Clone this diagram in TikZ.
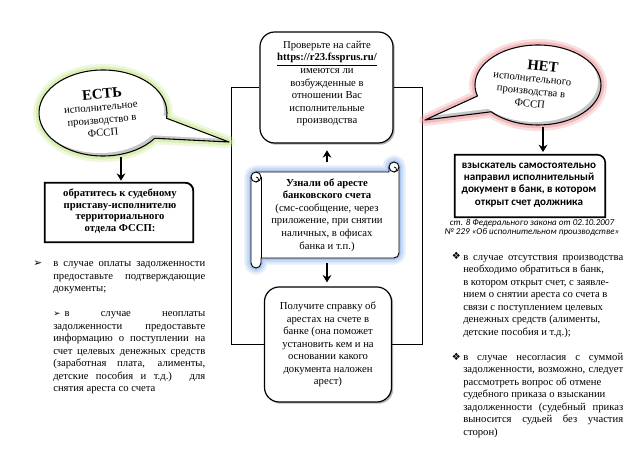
\documentclass[tikz,border=0pt]{standalone}
\usepackage{fontspec}
\setmainfont{Liberation Serif}
\newfontfamily\calfont{Carlito}
\newfontfamily\symfont{DejaVu Sans}
\usetikzlibrary{arrows.meta,shadows,calc}
\setlength{\parindent}{0pt}
\definecolor{glowgreen}{RGB}{200,232,140}
\definecolor{glowred}{RGB}{240,150,155}
\definecolor{glowblue}{RGB}{140,180,235}
\newcommand\yespath{($(103,113)+(36:64 and 43)$) arc[start angle=36, end angle=367, x radius=64, y radius=43] -- (229,142) -- cycle}
\newcommand\nopath{($(538,85)+(164:63 and 40)$) arc[start angle=164, end angle=498, x radius=63, y radius=40] -- (425,120) -- cycle}
\newcommand\scrollpath{(251,177) arc[start angle=180, end angle=270, radius=5] -- (389,172) -- (389,167) arc[start angle=180, end angle=360, radius=5] -- (399,253) arc[start angle=0, end angle=90, radius=5] -- (261,258) -- (261,263) arc[start angle=0, end angle=180, radius=5] -- cycle}
\tikzset{
  bigarrow/.style={line width=1.7pt, -{Stealth[length=5.5pt,width=6.5pt]}},
  frameline/.style={line width=0.9pt},
  rbox/.style={draw, line width=0.9pt, rounded corners=11pt, fill=white,
    drop shadow={shadow xshift=1.3pt, shadow yshift=-1.3pt, fill=gray!70, opacity=0.8}},
  txt/.style={font=\fontsize{8}{9.4}\selectfont, align=center, inner sep=0pt},
  btxt/.style={font=\fontsize{8}{9.4}\selectfont\bfseries, align=center, inner sep=0pt},
  para/.style={font=\fontsize{8}{9.4}\selectfont, align=justify, inner sep=0pt, anchor=north west},
  bul/.style={font=\symfont\fontsize{8}{9}\selectfont, inner sep=0pt, anchor=base west},
}
\begin{document}
\begin{tikzpicture}[x=0.75pt,y=-0.75pt]
\useasboundingbox (0,0) rectangle (640,453);
\fill[white] (0,0) rectangle (640,453);

% ---------- central column ----------
\node[rbox, minimum width=99.75pt, minimum height=83.25pt] (top) at (326.5,87.5) {};
\node[txt] (topt) at (327,83.5) {Проверьте на сайте\\ \textbf{\underline{https://r23.fssprus.ru/}}\\ имеются ли\\ возбужденные в\\ отношении Вас\\ исполнительные\\ производства};

\node[rbox, txt, minimum width=95.25pt, minimum height=86.25pt] (bot) at (328,344.5)
  {Получите справку об\\ арестах на счете в\\ банке (она поможет\\ установить кем и на\\ основании какого\\ документа наложен\\ арест)};

\draw[frameline] (top.west) -- ++(-28,0) |- (bot.west);
\draw[frameline] (top.east) -- ++(29,0) |- (bot.east);

% scroll
\node[minimum width=111pt, minimum height=79.5pt, inner sep=0pt] (scroll) at (325,215) {};
\path[draw=glowblue, line width=10pt, draw opacity=0.22, line join=round] \scrollpath;
\path[draw=glowblue, line width=6.5pt, draw opacity=0.3, line join=round] \scrollpath;
\path[draw=glowblue, line width=3pt, draw opacity=0.5, line join=round] \scrollpath;
\path[fill=white, draw=black, line width=0.7pt] \scrollpath;
\draw[line width=0.7pt] (261,258) -- (261,177);
\draw[line width=0.7pt] (256,172) arc[start angle=270, end angle=360, radius=5];
\draw[line width=0.7pt] (261,177) arc[start angle=0, end angle=180, radius=5];
\draw[line width=0.6pt] (256,177) arc[start angle=270, end angle=450, radius=2.5];
\draw[line width=0.7pt] (399,167) arc[start angle=0, end angle=180, radius=5];
\draw[line width=0.6pt] (394,167) arc[start angle=-90, end angle=90, radius=2.5];
\node[txt] (scrollt) at (327,215) {\textbf{Узнали об аресте}\\ \textbf{банковского счета}\\ (смс-сообщение, через\\ приложение, при снятии\\ наличных, в офисах\\ банка и т.п.)};

\draw[bigarrow, shorten >=5pt] (scroll.north -| topt) -- (top.south -| topt);
\draw[bigarrow, shorten >=3pt] ([yshift=4pt]scroll.south -| topt) -- (bot.north -| topt);

% ---------- left callout ----------
\path[draw=glowgreen, line width=9pt, draw opacity=0.3, line join=round] \yespath;
\path[draw=glowgreen, line width=5pt, draw opacity=0.5, line join=round] \yespath;
\begin{scope}
  \clip \yespath;
  \fill[gray!45] \yespath;
  \fill[white, shift={(-3,-3)}] \yespath;
\end{scope}
\path[draw=black, line width=0.8pt, line join=round] \yespath;
\node[inner sep=0pt, rotate=5, font=\fontsize{11}{13}\selectfont\bfseries] (yeshead) at (102,94) {ЕСТЬ};
\node[txt, rotate=5, font=\fontsize{8}{9.6}\selectfont] (yest) at (102,121) {исполнительное\\ производство в\\ ФССП};

\node[minimum width=111pt, minimum height=44.25pt, inner sep=0pt] (lb) at (119,212.5) {};
\draw[line width=1.4pt] (lb.south west) -- (lb.north west) -- ([xshift=-6pt]lb.north east)
  .. controls ([xshift=-2.7pt]lb.north east) and ([yshift=-2.7pt]lb.north east) .. ([yshift=-6pt]lb.north east)
  -- (lb.south east) -- cycle;
\node[btxt, font=\fontsize{8}{8.8}\selectfont\bfseries] (lbt) at (120,211) {обратитесь к судебному\\ приставу-исполнителю\\ территориального\\ отдела ФССП:};
\coordinate (yesb) at (121,157);
\draw[bigarrow, shorten >=1.5pt] (yesb) -- (yesb |- lb.north);

\node[para, text width=114pt] (lt) at (53,257.5) {%
\strut в случае оплаты задолженности\linebreak
предоставьте подтверждающие\linebreak документы;\par\vspace{9.4pt}
\strut{\symfont\fontsize{6.5}{7}\selectfont ➢}\hspace{3pt}в случае неоплаты\linebreak
задолженности предоставьте\linebreak информацию о поступлении на\linebreak
счет целевых денежных средств\linebreak (заработная плата, алименты,\linebreak
детские пособия и т.д.) для\linebreak снятия ареста со счета};
\node[bul] (lb1) at (33,266.5) {➢};

% ---------- right callout ----------
\path[draw=glowred, line width=9pt, draw opacity=0.3, line join=round] \nopath;
\path[draw=glowred, line width=5pt, draw opacity=0.5, line join=round] \nopath;
\begin{scope}
  \clip \nopath;
  \fill[gray!45] \nopath;
  \fill[white, shift={(-3,-3)}] \nopath;
\end{scope}
\path[draw=black, line width=0.8pt, line join=round] \nopath;
\node[inner sep=0pt, rotate=-6, font=\fontsize{11}{13}\selectfont\bfseries] (nohead) at (543,66) {НЕТ};
\node[txt, rotate=-6, font=\fontsize{8}{9.6}\selectfont] (net) at (531,92) {исполнительного\\ производства в\\ ФССП};

\node[minimum width=112.5pt, minimum height=46.5pt, inner sep=0pt] (rb) at (530,186) {};
\draw[line width=1.2pt] (rb.south west) -- (rb.north west) -- ([xshift=-6pt]rb.north east)
  .. controls ([xshift=-2.7pt]rb.north east) and ([yshift=-2.7pt]rb.north east) .. ([yshift=-6pt]rb.north east)
  -- (rb.south east) -- cycle;
\node[inner sep=0pt, align=center, font=\calfont\bfseries\fontsize{8.3}{9.2}\selectfont] (rbt) at (529,185) {взыскатель самостоятельно\\ направил исполнительный\\ документ в банк, в котором\\ открыт счет должника};
\coordinate (nob) at (543,127);
\draw[bigarrow, shorten >=2pt] (nob) -- (nob |- rb.north);

\node[inner sep=0pt, align=center, font=\calfont\itshape\fontsize{6.8}{7.2}\selectfont] (law) at (532,227.5) {ст. 8 Федерального закона от 02.10.2007\\ № 229 «Об исполнительном производстве»};

\node[para, text width=120pt] (rt) at (463,251) {%
\strut в случае отсутствия производства\linebreak
необходимо обратиться в банк,\newline в котором открыт счет, с заявле-\newline
нием о снятии ареста со счета в\newline связи с поступлением целевых\newline
денежных средств (алименты,\newline детские пособия и т.д.);\par\vspace{9.4pt}
\strut в случае несогласия с суммой\linebreak
задолженности, возможно, следует\linebreak рассмотреть вопрос об отмене\newline
судебного приказа о взыскании\newline задолженности (судебный приказ\linebreak
выносится судьей без участия\linebreak сторон)};
\node[bul, font=\symfont\fontsize{7.5}{9}\selectfont] (rb1) at (451.5,259.8) {❖};
\node[bul, font=\symfont\fontsize{7.5}{9}\selectfont] (rb2) at (451.5,360.1) {❖};
\end{tikzpicture}
\end{document}
